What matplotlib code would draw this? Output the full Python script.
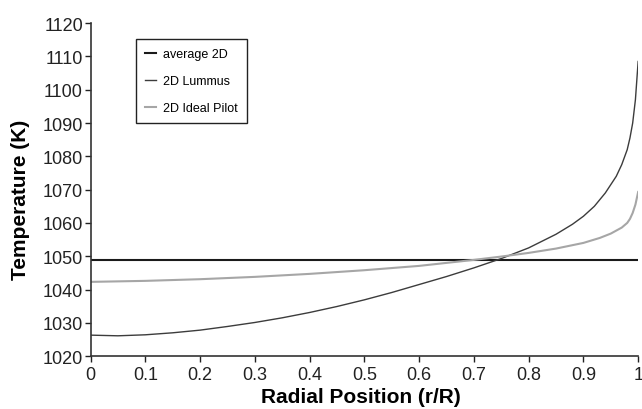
import matplotlib
matplotlib.use('Agg')
import matplotlib.pyplot as plt

plt.rcParams['font.family'] = ['Liberation Sans', 'DejaVu Sans']

# values
avg_x = [0.0, 1.0]
avg_t = [1048.8, 1048.8]

lummus_x = [0.0, 0.05, 0.1, 0.15, 0.2, 0.25, 0.3, 0.35, 0.4, 0.45, 0.5, 0.55,
            0.6, 0.65, 0.7, 0.75, 0.8, 0.85, 0.88, 0.9, 0.92, 0.94, 0.96,
            0.97, 0.98, 0.985, 0.99, 0.995, 1.0]
lummus_t = [1026.3, 1026.1, 1026.4, 1027.0, 1027.8, 1028.9, 1030.1, 1031.5,
            1033.1, 1034.9, 1036.9, 1039.1, 1041.5, 1043.9, 1046.5, 1049.3,
            1052.5, 1056.6, 1059.6, 1062.0, 1065.0, 1069.0, 1074.0, 1077.5,
            1082.0, 1085.5, 1090.0, 1097.0, 1108.5]

pilot_x = [0.0, 0.1, 0.2, 0.3, 0.4, 0.5, 0.6, 0.7, 0.75, 0.8, 0.85, 0.9,
           0.93, 0.95, 0.97, 0.98, 0.985, 0.99, 0.995, 1.0]
pilot_t = [1042.3, 1042.6, 1043.1, 1043.8, 1044.7, 1045.8, 1047.1, 1048.9,
           1049.9, 1051.0, 1052.3, 1054.0, 1055.5, 1056.8, 1058.6, 1060.0,
           1061.2, 1063.0, 1065.5, 1069.3]

x_ticks = [0, 0.1, 0.2, 0.3, 0.4, 0.5, 0.6, 0.7, 0.8, 0.9, 1]
x_labels = ['0', '0.1', '0.2', '0.3', '0.4', '0.5', '0.6', '0.7', '0.8', '0.9', '1']
y_ticks = list(range(1020, 1121, 10))

fig = plt.figure(figsize=(6.42, 4.10), dpi=100)
ax = fig.add_axes([0.141, 0.129, 0.853, 0.812])

ax.plot(avg_x, avg_t, color='#1a1a1a', lw=1.5, label='average 2D')
ax.plot(lummus_x, lummus_t, color='#3c3c3c', lw=1.0, label='2D Lummus')
ax.plot(pilot_x, pilot_t, color='#a6a6a6', lw=1.5, label='2D Ideal Pilot')

ax.set_xlim(0, 1)
ax.set_ylim(1020, 1120)
ax.set_xticks(x_ticks)
ax.set_xticklabels(x_labels)
ax.set_yticks(y_ticks)
ax.tick_params(direction='out', length=4, width=1, labelsize=13, colors='#222222')
ax.tick_params(axis='y', pad=1.5)
ax.tick_params(axis='x', pad=3)

for s in ['top', 'right']:
    ax.spines[s].set_visible(False)
for s in ['left', 'bottom']:
    ax.spines[s].set_color('#333333')
    ax.spines[s].set_linewidth(1.2)

ax.set_xlabel('Radial Position (r/R)', fontsize=15, fontweight='bold')
ax.set_ylabel('Temperature (K)', fontsize=15, fontweight='bold')
ax.xaxis.set_label_coords(0.493, -0.094)
ax.yaxis.set_label_coords(-0.111, 0.471)

leg = ax.legend(loc='upper left', bbox_to_anchor=(0.083, 0.952), fontsize=9,
                handlelength=0.9, labelspacing=1.2, fancybox=False,
                framealpha=1, edgecolor='#222222', borderpad=0.7,
                handletextpad=0.6, borderaxespad=0)
leg.get_frame().set_linewidth(1.0)

fig.savefig('out.png', dpi=100)
